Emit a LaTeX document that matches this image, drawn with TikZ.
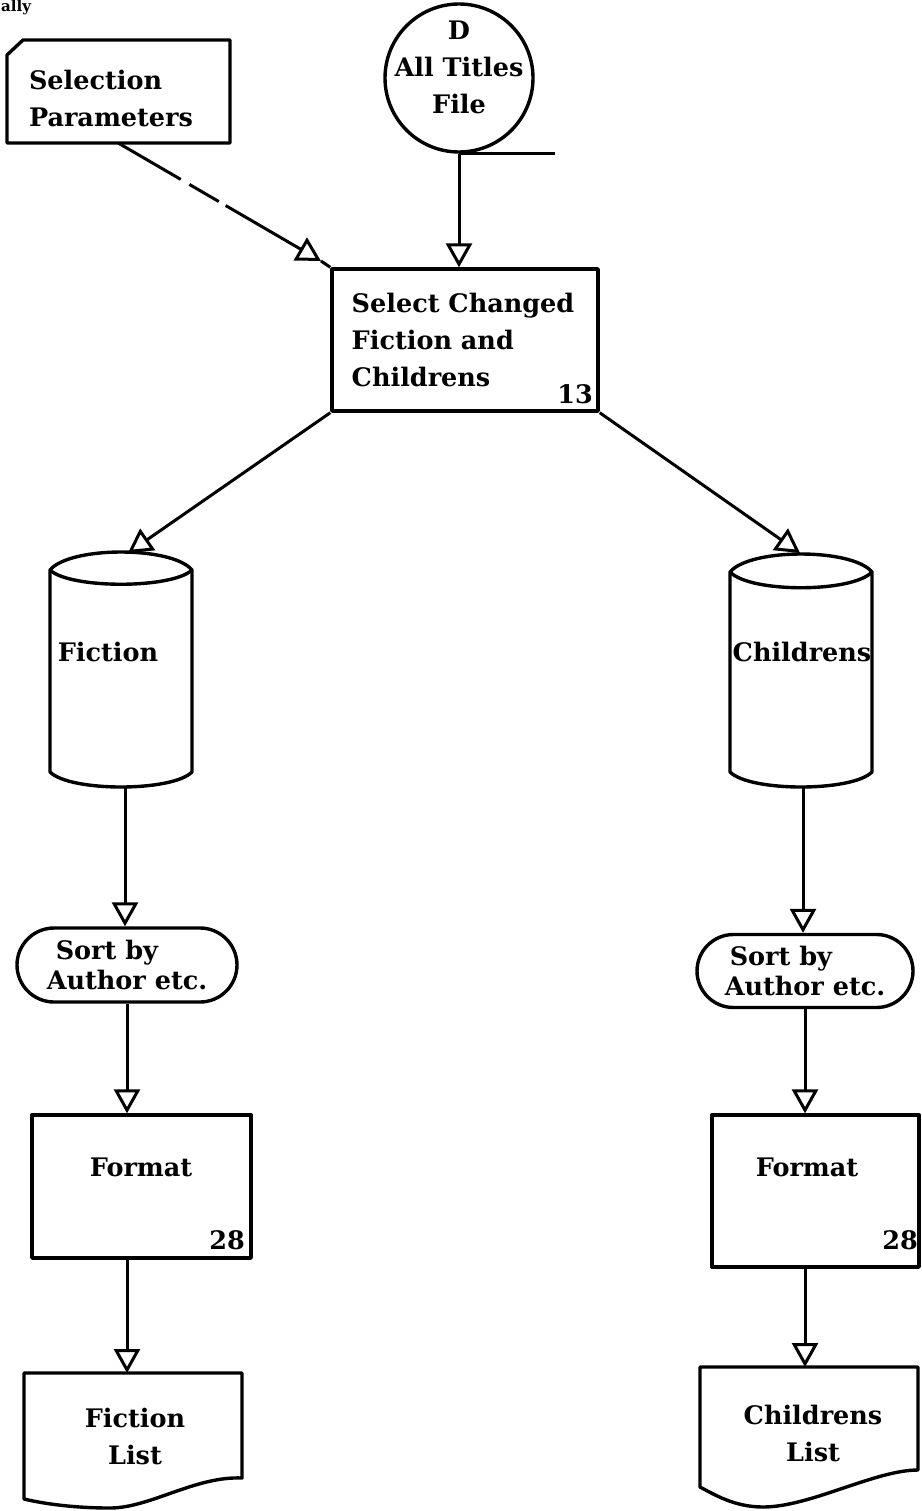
\documentclass[tikz,border=0pt]{standalone}
\usepackage{fontspec}
\setmainfont{DejaVu Serif}
\usetikzlibrary{arrows.meta,shapes.misc}
\begin{document}
\begin{tikzpicture}[x=1pt,y=-1pt,
  shapeline/.style={line width=3.4pt,line join=round},
  conn/.style={line width=3pt},
  arr/.style={conn,-{Triangle[open,length=24pt,width=26pt,line width=3pt]}},
  txt/.style={font=\bfseries\fontsize{25.5}{37}\selectfont,inner sep=0pt},
  stxt/.style={font=\bfseries\fontsize{25.5}{30}\selectfont,inner sep=0pt},
  boxnode/.style={draw,shapeline,inner sep=0pt},
  ghost/.style={inner sep=0pt,minimum width=#1},
  dashcustom/.style={conn,dash pattern=on 72pt off 10pt on 34pt off 8pt on 300pt}
]
\useasboundingbox (0,0) rectangle (921,1511);

% cut-off text at top-left
\node[font=\bfseries\fontsize{15}{18}\selectfont,inner sep=0pt,anchor=base west] (cut) at (1,12) {ally};

% Selection Parameters card
\draw[shapeline] (7,55) -- (23,40) -- (230,40) -- (230,143) -- (7,143) -- cycle;
\node[ghost=223,minimum height=103] (sel) at (118.5,91.5) {};
\node[txt,align=left] (seltext) at (111,98) {Selection\\Parameters};

% All Titles File
\node[draw,circle,shapeline,minimum size=148pt,inner sep=0pt] (atf) at (459,78) {};
\node[txt,align=center] (atftext) at (459,67) {D\\All Titles\\File};
\coordinate (atfend) at (555,152);
\draw[conn] (atf.south) -- (atf.south -| atfend);

% Select box
\node[boxnode,minimum width=266pt,minimum height=142pt] (selbox) at (465,340) {};
\node[txt,align=left] (selboxtext) at (463,340) {Select Changed\\Fiction and\\Childrens};
\node[txt] (n13) at (575,394) {13};

% dashed connector
\coordinate (dashtip) at (321,261);
\draw[dashcustom,-{Triangle[open,length=24pt,width=26pt,line width=3pt]}] (sel.south) -- (dashtip);
\draw[conn] (dashtip) -- (selbox.north west);
\draw[arr] (atf.south) -- (atf.south |- selbox.north);

% Fiction cylinder
\draw[shapeline] (50,570) .. controls (70,546) and (172,546) .. (192,570) -- (192,772)
  .. controls (172,792) and (70,792) .. (50,772) -- cycle;
\draw[shapeline] (50,570) .. controls (70,589) and (172,589) .. (192,570);
\coordinate (ficTop) at (128,553);
\coordinate (ficBot) at (125,787);
\node[txt] (fictext) at (108,652) {Fiction};

% Childrens cylinder
\draw[shapeline] (730,572) .. controls (750,548) and (852,548) .. (872,572) -- (872,772)
  .. controls (852,792) and (750,792) .. (730,772) -- cycle;
\draw[shapeline] (730,572) .. controls (750,593) and (852,593) .. (872,572);
\coordinate (chiTop) at (800,553);
\coordinate (chiBot) at (803,787);
\node[txt] (chitext) at (802,652) {Childrens};

\draw[arr] (selbox.south west) -- (ficTop);
\draw[arr] (selbox.south east) -- (chiTop);

% Sort terminals
\node[draw,shapeline,rounded rectangle,minimum width=220pt,minimum height=74pt,inner sep=0pt,stxt,align=left] (sortL) at (127,965) {\hspace*{9pt}Sort by\\Author etc.};
\node[draw,shapeline,rounded rectangle,minimum width=216pt,minimum height=73pt,inner sep=0pt,stxt,align=left] (sortR) at (805,971) {\hspace*{5pt}Sort by\\Author etc.};

\draw[arr] (ficBot) -- (ficBot |- sortL.north);
\draw[arr] (chiBot) -- (chiBot |- sortR.north);

% Format boxes
\node[boxnode,minimum width=219pt,minimum height=143pt] (fmtL) at (141.5,1186.5) {};
\node[txt] (fmtLtext) at (141,1167) {Format};
\node[txt] (fmtL28) at (227,1240) {28};
\node[boxnode,minimum width=207pt,minimum height=152pt] (fmtR) at (815.5,1191) {};
\node[txt] (fmtRtext) at (807,1167) {Format};
\node[txt] (fmtR28) at (900,1240) {28};

\draw[arr] (sortL.south) -- (sortL.south |- fmtL.north);
\draw[arr] (sortR.south) -- (sortR.south |- fmtR.north);

% Documents
\draw[shapeline] (24,1373) -- (242,1373) -- (242,1478)
  .. controls (195,1476) and (150,1508) .. (110,1508)
  .. controls (75,1508) and (45,1504) .. (24,1499) -- cycle;
\coordinate (docLTop) at (127,1373);
\node[txt,align=center] (docLtext) at (135,1436) {Fiction\\List};
\draw[shapeline] (700,1367) -- (918,1367) -- (918,1470)
  .. controls (875,1470) and (810,1507) .. (763,1507)
  .. controls (735,1507) and (715,1495) .. (700,1487) -- cycle;
\coordinate (docRTop) at (805,1367);
\node[txt,align=center] (docRtext) at (813,1433) {Childrens\\List};

\draw[arr] (sortL.south |- fmtL.south) -- (sortL.south |- docLTop);
\draw[arr] (sortR.south |- fmtR.south) -- (sortR.south |- docRTop);
\end{tikzpicture}
\end{document}
